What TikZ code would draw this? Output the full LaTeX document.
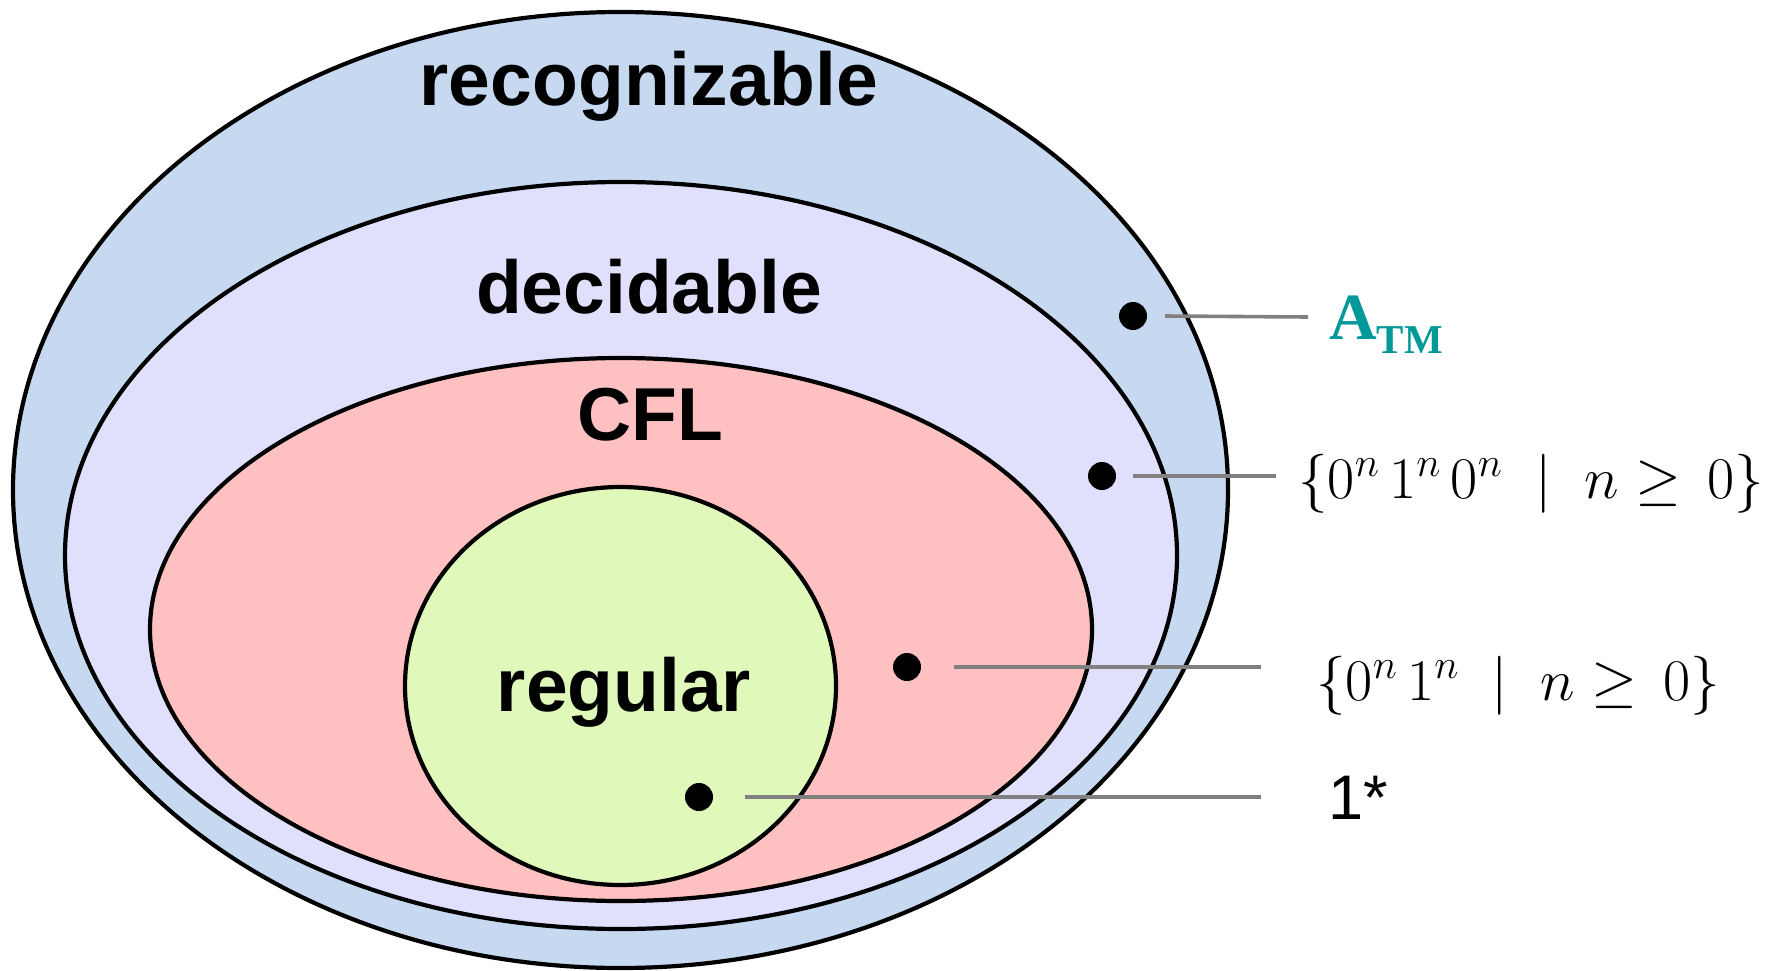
\RequirePackage{fix-cm}
\documentclass[tikz,border=0pt]{standalone}
\usepackage{fontspec}
\usetikzlibrary{shapes.geometric}
\newfontfamily\lsans{Liberation Sans}
\newfontfamily\lserif{Liberation Serif}
\definecolor{recblue}{RGB}{198,217,240}
\definecolor{declav}{RGB}{224,224,252}
\definecolor{cflpink}{RGB}{254,192,192}
\definecolor{reggreen}{RGB}{224,248,186}
\definecolor{tealtxt}{RGB}{0,153,153}
\definecolor{linegray}{RGB}{128,128,128}
\begin{document}
\begin{tikzpicture}[x=1pt,y=-1pt,
  region/.style={draw=black, line width=4.2pt, ellipse, inner sep=0pt},
  dot/.style={circle, fill=black, inner sep=0pt, minimum size=28pt},
  conn/.style={draw=linegray, line width=3.6pt},
  lab/.style={font=\lsans\bfseries\fontsize{75}{90}\selectfont, anchor=base, inner sep=0pt},
  mathlab/.style={anchor=base west, inner sep=0pt, font=\fontsize{59}{70}\selectfont},
]
\useasboundingbox (0,0) rectangle (1777,970);
% regions
\node[region, fill=recblue, minimum width=1215pt, minimum height=956pt] (rec) at (620.5,490) {};
\node[region, fill=declav, minimum width=1112pt, minimum height=747pt] (dec) at (621,555.5) {};
\node[region, fill=cflpink, minimum width=942pt, minimum height=543pt] (cfl) at (621,629.5) {};
\node[region, fill=reggreen, minimum width=431pt, minimum height=398pt] (reg) at (620.5,686) {};
% region labels
\node[lab] (trec) at (649,105) {recognizable};
\node[lab] (tdec) at (649,313) {decidable};
\node[lab] (tcfl) at (650,440) {CFL};
\node[lab] (treg) at (624,711) {regular};
% dots
\node[dot] (d1) at (1133,316) {};
\node[dot] (d2) at (1102,476) {};
\node[dot] (d3) at (907,667) {};
\node[dot] (d4) at (699,797) {};
% right labels
\node[anchor=base west, inner sep=0pt, text=tealtxt, font=\lserif\bfseries\fontsize{66}{80}\selectfont] (atm) at (1329,339) {A\raisebox{-14pt}{\fontsize{41}{50}\selectfont TM}};
\node[mathlab] (s1) at (1298,498) {$\{0^{n}\,1^{n}\,0^{n}\;\mid\;n\geq\,0\}$};
\node[mathlab] (s2) at (1316,700) {$\{0^{n}\,1^{n}\;\mid\;n\geq\,0\}$};
\node[anchor=base west, inner sep=0pt, font=\lsans\fontsize{63}{75}\selectfont] (one) at (1328,819) {1*};
% connector ends
\coordinate (e1) at (1308,317);
\coordinate (e2) at (1276,476);
\coordinate (e3) at (1261,667);
\coordinate (e4) at (1261,797);
\draw[conn] ([xshift=18pt]d1.east) -- (e1);
\draw[conn] ([xshift=17pt]d2.east) -- (e2);
\draw[conn] ([xshift=33pt]d3.east) -- (e3);
\draw[conn] ([xshift=32pt]d4.east) -- (e4);
\end{tikzpicture}
\end{document}
